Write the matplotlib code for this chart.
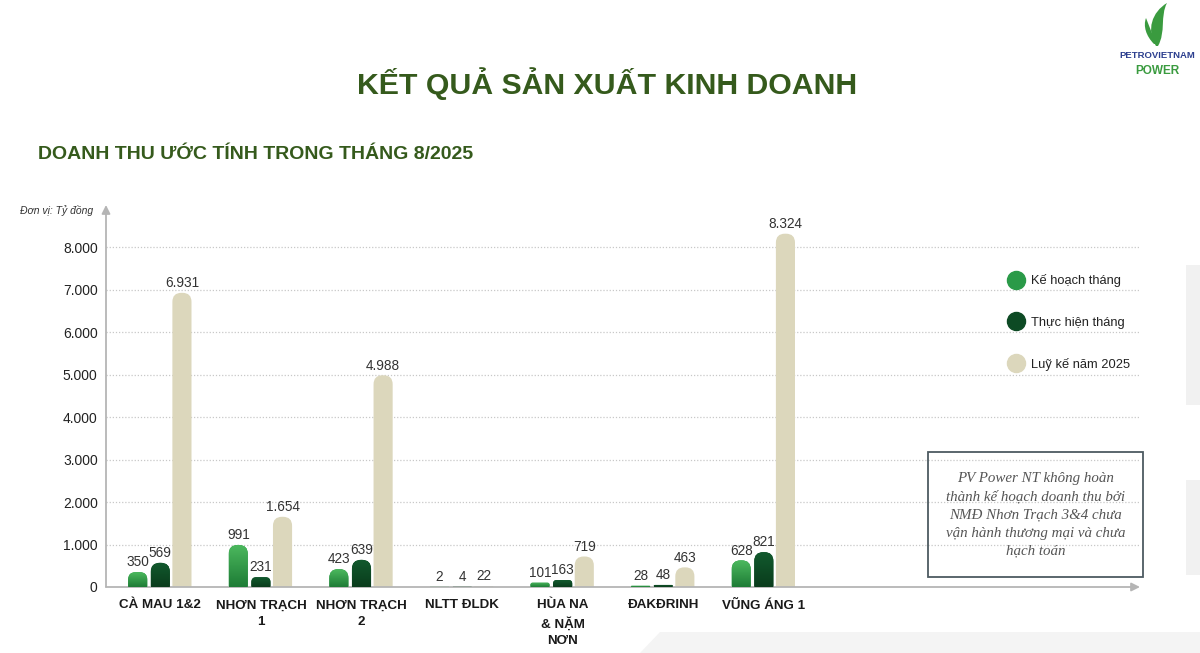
import numpy as np
import matplotlib.pyplot as plt
from matplotlib.patches import FancyBboxPatch, Rectangle, PathPatch, Polygon
from matplotlib.path import Path
from matplotlib.lines import Line2D
from matplotlib.colors import LinearSegmentedColormap

plt.rcParams['font.family'] = ['Liberation Sans', 'DejaVu Sans']

# data (ty dong)
plants = ['CÀ MAU 1&2', 'NHƠN TRẠCH\n1', 'NHƠN TRẠCH\n2', 'NLTT ĐLDK',
          'HÙA NA\n& NẶM\nNƠN', 'ĐAKĐRINH', 'VŨNG ÁNG 1']
ke_hoach = [350, 991, 423, 2, 101, 28, 628]
thuc_hien = [569, 231, 639, 4, 163, 48, 821]
luy_ke = [6931, 1654, 4988, 22, 719, 463, 8324]
series_names = ['Kế hoạch tháng', 'Thực hiện tháng', 'Luỹ kế năm 2025']
colors = ['#2a9a48', '#0d4a24', '#dcd7bc']
# top -> bottom shading of each series (None = flat)
shades = [('#4cb95e', '#1e7c36'), ('#125a2e', '#0a3c1c'), None]
yticks = [0, 1000, 2000, 3000, 4000, 5000, 6000, 7000, 8000]

title = 'KẾT QUẢ SẢN XUẤT KINH DOANH'
subtitle = 'DOANH THU ƯỚC TÍNH TRONG THÁNG 8/2025'
unit = 'Đơn vị: Tỷ đồng'
note = ('PV Power NT không hoàn\nthành kế hoạch doanh thu bởi\n'
        'NMĐ Nhơn Trạch 3&4 chưa\nvận hành thương mại và chưa\nhạch toán')


def vn(v):
    return f'{v:,}'.replace(',', '.')


W, H = 1200, 653
fig = plt.figure(figsize=(W / 100, H / 100), dpi=100)
fig.patch.set_facecolor('white')


def fx(px):
    return px / W


def fy(py):
    return 1 - py / H


# faint slide decoration
grey = '#f1f1f1'
fig.patches.append(Rectangle((fx(1186), fy(405)), fx(14), 140 / H, transform=fig.transFigure,
                             fc=grey, ec='none', zorder=0))
fig.patches.append(Rectangle((fx(1186), fy(575)), fx(14), 95 / H, transform=fig.transFigure,
                             fc=grey, ec='none', zorder=0))
fig.patches.append(Polygon([(fx(640), fy(653)), (fx(660), fy(632)), (fx(1200), fy(632)),
                            (fx(1200), fy(653))], closed=True, transform=fig.transFigure,
                           fc='#f4f4f4', ec='none', zorder=0))

ax = fig.add_axes([fx(106), fy(587), (1140 - 106) / W, (587 - 205) / H])
ax.set_facecolor('none')
xmin, xmax = -0.54, 9.74

x = np.arange(len(plants))
offsets = [-0.225, 0.0, 0.215]
bw = 0.19

# units per pixel, so the rounded tops stay circular
ux = (xmax - xmin) / ((1140 - 106))
uy = 9000 / (587 - 205)
aspect = uy / ux
grad = np.linspace(0, 1, 64).reshape(-1, 1)

for vals, c, off, sh in zip([ke_hoach, thuc_hien, luy_ke], colors, offsets, shades):
    cmap = LinearSegmentedColormap.from_list('g', list(sh)) if sh else None
    for xi, v in zip(x, vals):
        left = xi + off - bw / 2
        r = min(9 * ux, 0.5 * v / aspect)
        y0 = -r * aspect
        p = FancyBboxPatch((left, y0), bw, v - y0,
                           boxstyle=f'round,pad=0,rounding_size={r}',
                           mutation_aspect=aspect, fc=c, ec='none', zorder=3)
        ax.add_patch(p)
        if cmap is not None:
            im = ax.imshow(grad, extent=(left, left + bw, 0, v), origin='upper',
                           cmap=cmap, aspect='auto', zorder=3.1, interpolation='bilinear')
            im.set_clip_path(p)
        ax.annotate(vn(v), (xi + off, v), xytext=(0, 2), textcoords='offset points',
                    ha='center', va='bottom', fontsize=9.8, color='#333333', zorder=4)

ax.set_xlim(xmin, xmax)
ax.set_ylim(0, 9000)

for t in yticks[1:]:
    ax.axhline(t, color='#c8c8c8', lw=0.9, ls=(0, (1, 1.5)), zorder=1)

for s in ax.spines.values():
    s.set_visible(False)
ax.annotate('', xy=(0, 1), xytext=(0, 0), xycoords='axes fraction',
            arrowprops=dict(arrowstyle='-|>,head_length=0.5,head_width=0.25',
                            color='#b5b5b5', lw=1.3, shrinkA=0, shrinkB=0))
ax.annotate('', xy=(1, 0), xytext=(0, 0), xycoords='axes fraction',
            arrowprops=dict(arrowstyle='-|>,head_length=0.5,head_width=0.25',
                            color='#b5b5b5', lw=1.3, shrinkA=0, shrinkB=0))

ax.set_yticks(yticks)
ax.set_yticklabels([vn(t) for t in yticks], fontsize=10, color='#222222')
ax.set_xticks(x)
ax.set_xticklabels(plants, fontsize=9.6, fontweight='bold', color='#1a1a1a',
                   linespacing=1.5)
ax.tick_params(axis='y', length=0, pad=6)
ax.tick_params(axis='x', length=0, pad=9)

# legend
handles = [Line2D([], [], ls='none', marker='o', ms=13, mfc=c, mec=c) for c in colors]
ax.legend(handles, series_names, loc='upper left', bbox_to_anchor=(fx(1001), fy(268)),
          bbox_transform=fig.transFigure, frameon=False, fontsize=9.3,
          labelspacing=2.25, handletextpad=0.55, borderpad=0, handlelength=1.3,
          labelcolor='#222222')

# note box
fig.patches.append(Rectangle((fx(928), fy(577)), (1143 - 928) / W, (577 - 452) / H,
                             transform=fig.transFigure, fc='none', ec='#4d5b61', lw=1.3,
                             zorder=5))
fig.text(fx(1035.5), fy(515), note, ha='center', va='center', fontsize=10.8,
         family=['Liberation Serif', 'DejaVu Serif'], style='italic', color='#555555',
         linespacing=1.5)

# titles
fig.text(fx(607), fy(84), title, ha='center', va='center', fontsize=21.8,
         fontweight='bold', color='#355a1c')
fig.text(fx(38), fy(154), subtitle, ha='left', va='center', fontsize=14,
         fontweight='bold', color='#355a1c')
fig.text(fx(20), fy(211), unit, ha='left', va='center', fontsize=7.5,
         style='italic', color='#333333')

# logo
leaf = Path([(1156, 46), (1146, 30), (1152, 12), (1167, 3),
             (1160, 16), (1166, 32), (1158, 46), (1156, 46)],
            [Path.MOVETO, Path.CURVE4, Path.CURVE4, Path.CURVE4,
             Path.CURVE4, Path.CURVE4, Path.CURVE4, Path.CLOSEPOLY])
leaf2 = Path([(1154, 44), (1146, 36), (1143, 26), (1146, 18),
              (1150, 28), (1153, 36), (1156, 44), (1154, 44)],
             [Path.MOVETO, Path.CURVE4, Path.CURVE4, Path.CURVE4,
              Path.CURVE4, Path.CURVE4, Path.CURVE4, Path.CLOSEPOLY])
for lp in (leaf, leaf2):
    verts = np.array([(fx(a), fy(b)) for a, b in lp.vertices])
    fig.patches.append(PathPatch(Path(verts, lp.codes), transform=fig.transFigure,
                                 fc='#3a9b3f', ec='none'))
fig.text(fx(1157), fy(56), 'PETROVIETNAM', ha='center', va='center', fontsize=6.8,
         fontweight='bold', color='#2c3f8f')
fig.text(fx(1157), fy(71), 'POWER', ha='center', va='center', fontsize=8.5,
         fontweight='bold', color='#3a9b3f')

fig.savefig('out.png', dpi=100, facecolor='white')
